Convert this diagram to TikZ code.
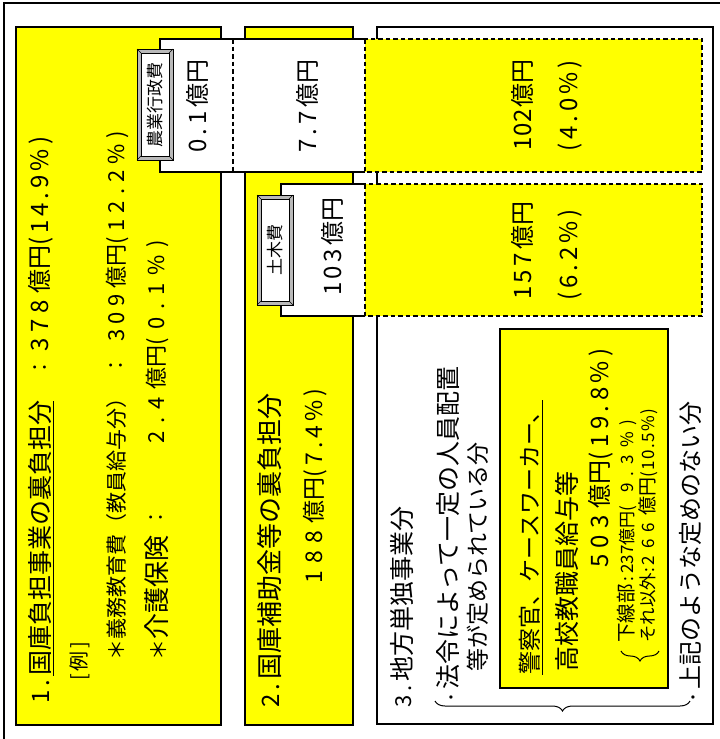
\documentclass[tikz,border=0pt]{standalone}
\usepackage{fontspec}
\setmainfont{Noto Sans CJK JP}
\usetikzlibrary{decorations.pathreplacing}
\newcommand\FS[1]{\fontsize{#1}{#1}\selectfont}
\makeatletter
\newcommand\G[2][4pt]{\def\G@k{#1}\G@loop#2\relax}
\def\G@loop#1{\ifx\relax#1\else#1\kern\G@k\relax\expandafter\G@loop\fi}
\makeatother
\definecolor{yel}{RGB}{255,255,0}
\begin{document}
\begin{tikzpicture}[x=1pt,y=-1pt,
  box/.style={draw=black,line width=1.2pt},
  dsh/.style={draw=black,line width=1.2pt,dash pattern=on 4.5pt off 3pt},
  vt/.style={rotate=90,anchor=west,inner sep=0pt},
  vc/.style={rotate=90,anchor=center,inner sep=0pt},
  btnout/.style={draw=black,fill=gray!55,line width=1pt},
  btnin/.style={draw=black,fill=white,line width=0.8pt},
  brc/.style={line width=1pt,decorate},
]
\useasboundingbox (0,0) rectangle (720,739);
\clip (0,0) rectangle (720,739);
\fill[white] (0,0) rectangle (720,739);
\draw[line width=1.2pt] (730,3) -- (4,3) -- (4,745);
% main boxes
\draw[box,fill=yel] (16,27) rectangle (221,725);
\draw[box,fill=yel] (245,27) rectangle (353,725);
\draw[box,fill=white] (377,27) rectangle (713,724);
\draw[box,fill=yel] (500,329) rectangle (668,688);
% row 1
\fill[white] (160,39) rectangle (365,172);
\draw[box] (365,39) -- (160,39) -- (160,172) -- (365,172);
\draw[dsh] (233,39) -- (233,172);
\draw[dsh,fill=yel] (365,39) rectangle (702,172);
% row 2
\fill[white] (281,184) rectangle (365,316);
\draw[box] (365,184) -- (281,184) -- (281,316) -- (365,316);
\draw[dsh,fill=yel] (365,184) rectangle (702,316);
% buttons
\draw[btnout] (137,49) rectangle (173,160);
\draw[btnin] (141,53) rectangle (169,156);
\draw[line width=0.6pt] (137,49) -- (141,53) (173,49) -- (169,53) (137,160) -- (141,156) (173,160) -- (169,156);
\node[vc] (btn1) at (155,104.5) {\FS{17}農業行政費};
\draw[btnout] (257,195) rectangle (293,305);
\draw[btnin] (261,199) rectangle (289,301);
\draw[line width=0.6pt] (257,195) -- (261,199) (293,195) -- (289,199) (257,305) -- (261,301) (293,305) -- (289,301);
\node[vc] (btn2) at (275,250) {\FS{17}土木費};
% box 1 texts
\node[vt] (a1) at (41,704) {\FS{24}\G[4pt]{1.}\underline{\FS{25}国庫負担事業の裏負担分}};
\node[vc] (a2) at (41,367) {\FS{20}：};
\node[vt] (a3) at (41,352) {\FS{24}\G[6pt]{378}億円\G[4pt]{(14.9\%)}};
\node[vt] (b1) at (80,681) {\FS{20}\G[3pt]{[例]}};
\node[vt] (c1) at (117,661) {\FS{21}＊義務教育費（教員給与分）};
\node[vc] (c2) at (117,365) {\FS{20}：};
\node[vt] (c3) at (117,342) {\FS{22}\G[5.5pt]{309}億円\G[6pt]{(12.2\%)}};
\node[vt] (d1) at (157,661) {\FS{21}＊\FS{26}介護保険};
\node[vc] (d2) at (157,517) {\FS{20}：};
\node[vt] (d3) at (157,444) {\FS{22}\G[8pt]{2.4}億円\G[8pt]{(0.1\%)}};
% box 2 texts
\node[vt] (e1) at (270,708) {\FS{24}\G[4pt]{2.}\FS{26}国庫補助金等の裏負担分};
\node[vt] (f1) at (315,584) {\FS{23}\G[7.5pt]{188}億円\G[4pt]{(7.4\%)}};
% row texts
\node[vt] (g1) at (197,153) {\FS{24}\G[4pt]{0.1}億円};
\node[vt] (h1) at (307,153) {\FS{24}\G[4pt]{7.7}億円};
\node[vt] (i1) at (522,151) {\FS{24}\G[1pt]{102}億円};
\node[vt] (i2) at (570,152) {\FS{24}\G[4pt]{(4.0\%)}};
\node[vt] (j1) at (332,296) {\FS{24}\G[3.5pt]{103}億円};
\node[vt] (k1) at (522,300) {\FS{24}\G[3.5pt]{157}億円};
\node[vt] (k2) at (570,301) {\FS{24}\G[4pt]{(6.2\%)}};
% box 3 texts
\node[vt] (l1) at (402,708) {\FS{22}\G[4pt]{3.}\FS{25}地方単独事業分};
\node[vt] (m1) at (448,706) {\FS{16}・\FS{25}法令によって一定の人員配置};
\node[vt] (n1) at (478,672) {\FS{23}等が定められている分};
\node[vt] (o1) at (531,675) {\underline{\FS{23}警察官、ケースワーカー、}};
\node[vt] (p1) at (567,672) {\FS{25}高校教職員給与等};
\node[vt] (q1) at (601,568) {\FS{24}\G[6.5pt]{503}億円\G[4.5pt]{(19.8\%)}};
\node[vt] (r1) at (627,643) {\FS{19.5}下線部\FS{17}\hspace{3pt}:\hspace{3pt}237億円\G[7pt]{(}\hspace{6pt}\G[7pt]{9.3\%)}};
\node[vt] (s1) at (648,643) {\FS{17.5}それ以外\FS{17}:\hspace{3pt}\G[7pt]{266}\FS{19}億円\FS{17}\G[1.5pt]{(10.5\%)}};
\node[vt] (t1) at (690,706) {\FS{16}・\FS{24}上記のような定めのない分};
% braces
\draw[brc,decoration={brace,amplitude=10pt}] (690,701) -- (435,701);
\draw[brc,decoration={brace,amplitude=10pt}] (659,651) -- (621,651);
\end{tikzpicture}
\end{document}
